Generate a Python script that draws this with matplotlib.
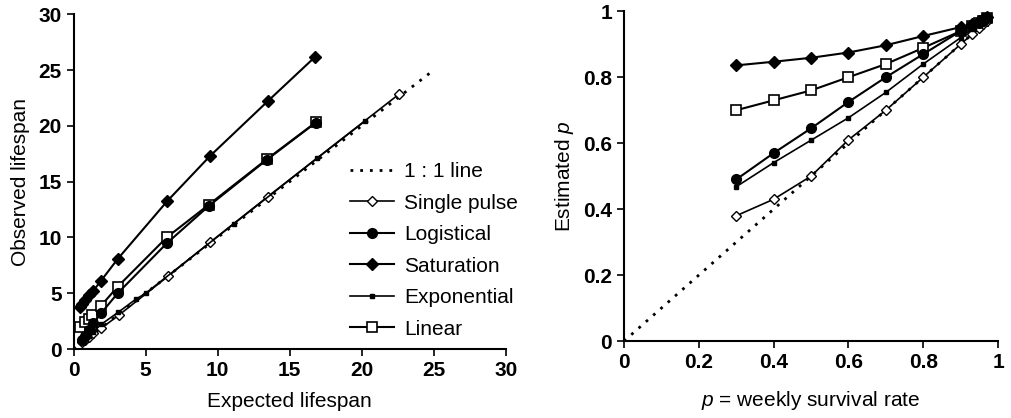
import matplotlib
matplotlib.use("Agg")
from matplotlib import pyplot as plt

plt.rcParams['font.family'] = ['Liberation Sans', 'DejaVu Sans']
plt.rcParams['mathtext.fontset'] = 'custom'
plt.rcParams['mathtext.it'] = 'Liberation Sans:italic'
plt.rcParams['mathtext.rm'] = 'Liberation Sans'

# left panel: expected vs observed lifespan
single_x = [0.6, 0.8, 1.05, 1.35, 1.9, 3.15, 6.57, 9.47, 13.47, 22.6]
single_y = [0.6, 0.85, 1.1, 1.4, 1.85, 3.05, 6.54, 9.56, 13.65, 22.85]
logis_x = [0.6, 0.8, 1.05, 1.35, 1.9, 3.05, 6.46, 9.4, 13.4, 16.8]
logis_y = [0.8, 1.2, 1.7, 2.3, 3.2, 4.99, 9.47, 12.84, 16.95, 20.28]
satur_x = [0.45, 0.6, 0.8, 1.05, 1.35, 1.9, 3.05, 6.5, 9.47, 13.47, 16.78]
satur_y = [3.75, 4.0, 4.4, 4.85, 5.2, 6.12, 8.06, 13.26, 17.3, 22.2, 26.2]
expo_x = [0.55, 0.8, 1.05, 1.35, 1.9, 3.1, 4.3, 5.0, 11.1, 16.9, 20.2]
expo_y = [0.6, 0.9, 1.2, 1.55, 2.2, 3.3, 4.45, 5.0, 11.2, 17.1, 20.4]
linear_x = [0.44, 0.8, 1.05, 1.29, 1.9, 3.05, 6.46, 9.4, 13.4, 16.8]
linear_y = [2.0, 2.4, 2.7, 3.05, 3.88, 5.58, 10.0, 12.95, 17.0, 20.3]

# right panel: weekly survival rate vs estimated p
p = [0.3, 0.4, 0.5, 0.6, 0.7, 0.8, 0.9, 0.93, 0.95, 0.96, 0.97]
est_single = [0.38, 0.43, 0.50, 0.61, 0.70, 0.80, 0.90, 0.93, 0.95, 0.96, 0.97]
est_logis = [0.49, 0.57, 0.645, 0.725, 0.80, 0.87, 0.94, 0.955, 0.965, 0.972, 0.98]
est_satur = [0.836, 0.847, 0.859, 0.875, 0.897, 0.925, 0.952, 0.962, 0.97, 0.976, 0.982]
est_expo = [0.468, 0.541, 0.609, 0.677, 0.754, 0.84, 0.92, 0.945, 0.958, 0.968, 0.978]
est_linear = [0.70, 0.73, 0.76, 0.80, 0.84, 0.889, 0.94, 0.955, 0.965, 0.972, 0.98]

styles = {
    "Single pulse": dict(marker="D", mfc="white", mec="black", ms=5, mew=1.0, lw=1.2, zorder=3),
    "Logistical": dict(marker="o", mfc="black", mec="black", ms=7, lw=1.5, zorder=4),
    "Saturation": dict(marker="D", mfc="black", mec="black", ms=6.5, lw=1.5, zorder=4),
    "Exponential": dict(marker="s", mfc="black", mec="black", ms=3.5, lw=1.2, zorder=3),
    "Linear": dict(marker="s", mfc="white", mec="black", ms=6.5, mew=1.2, lw=1.5, zorder=2),
}
dotted = dict(color="black", lw=2, linestyle=(0, (1, 2.5)))

fig = plt.figure(figsize=(10.12, 4.18), dpi=100)
ax1 = fig.add_axes([0.0728, 0.165, 0.427, 0.801])
ax2 = fig.add_axes([0.6166, 0.184, 0.3696, 0.789])

ax1.plot([0, 25], [0, 25], label="1 : 1 line", **dotted)
ax1.plot(single_x, single_y, color="black", label="Single pulse", **styles["Single pulse"])
ax1.plot(logis_x, logis_y, color="black", label="Logistical", **styles["Logistical"])
ax1.plot(satur_x, satur_y, color="black", label="Saturation", **styles["Saturation"])
ax1.plot(expo_x, expo_y, color="black", label="Exponential", **styles["Exponential"])
ax1.plot(linear_x, linear_y, color="black", label="Linear", **styles["Linear"])

ax1.set_xlim(0, 30)
ax1.set_ylim(0, 30)
ax1.set_xticks(range(0, 31, 5))
ax1.set_yticks(range(0, 31, 5))
ax1.set_xlabel("Expected lifespan", fontsize=15, labelpad=9)
ax1.set_ylabel("Observed lifespan", fontsize=15, labelpad=6)
ax1.legend(loc="lower left", bbox_to_anchor=(0.615, 0.0), frameon=False, fontsize=15,
           handlelength=2.1, handletextpad=0.5, labelspacing=0.6, borderaxespad=0.1)

ax2.plot([0, 0.985], [0, 0.985], **dotted)
ax2.plot(p, est_single, color="black", **styles["Single pulse"])
ax2.plot(p, est_logis, color="black", **styles["Logistical"])
ax2.plot(p, est_satur, color="black", **styles["Saturation"])
ax2.plot(p, est_expo, color="black", **styles["Exponential"])
ax2.plot(p, est_linear, color="black", **styles["Linear"])

ax2.set_xlim(0, 1)
ax2.set_ylim(0, 1)
ticks = [0, 0.2, 0.4, 0.6, 0.8, 1]
tick_labels = ["0", "0.2", "0.4", "0.6", "0.8", "1"]
ax2.set_xticks(ticks)
ax2.set_xticklabels(tick_labels)
ax2.set_yticks(ticks)
ax2.set_yticklabels(tick_labels)
ax2.set_xlabel("$p$ = weekly survival rate", fontsize=15, labelpad=12)
ax2.set_ylabel("Estimated $p$", fontsize=15, labelpad=5)

for ax in (ax1, ax2):
    ax.spines["top"].set_visible(False)
    ax.spines["right"].set_visible(False)
    ax.spines["left"].set_linewidth(1.5)
    ax.spines["bottom"].set_linewidth(1.5)
    ax.tick_params(direction="out", length=5, width=1.2, labelsize=15)
    for lab in ax.get_xticklabels() + ax.get_yticklabels():
        lab.set_fontweight("bold")

fig.savefig("out.png", dpi=100)
